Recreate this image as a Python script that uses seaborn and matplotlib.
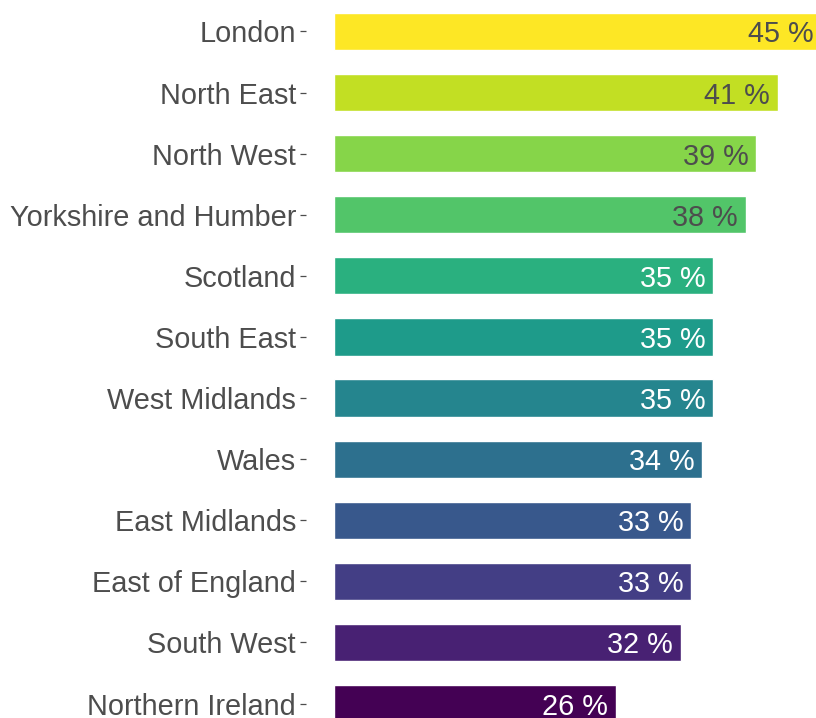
import matplotlib
matplotlib.use("Agg")
import matplotlib.pyplot as plt
import seaborn as sns
import numpy as np
import pandas as pd

regions = ["London", "North East", "North West", "Yorkshire and Humber", "Scotland",
           "South East", "West Midlands", "Wales", "East Midlands", "East of England",
           "South West", "Northern Ireland"]
values = [45, 41, 39, 38, 35, 35, 35, 34, 33, 33, 32, 26]
labels = [f"{v} %" for v in values]

df = pd.DataFrame({"region": regions, "value": values})

cmap = matplotlib.colormaps["viridis"]
n = len(regions)
colors = [cmap(x) for x in np.linspace(1, 0, n)]

sns.set_theme(style="white")
plt.rcParams["font.family"] = ["Liberation Sans", "DejaVu Sans"]

fig = plt.figure(figsize=(8.16, 7.18), dpi=100)
ax = fig.add_axes([306 / 816, 0, 1 - 306 / 816, 1])

sns.barplot(data=df, y="region", x="value", hue="region", palette=colors,
            order=regions, hue_order=regions, width=0.61, legend=False, ax=ax,
            saturation=1)

px_per_unit = 10.83
ax.set_xlim(-28 / px_per_unit, (816 - 306 - 28) / px_per_unit)
ax.set_ylim(11.237, -0.515)

dark = "#4D4D4D"
for i, (v, lab) in enumerate(zip(values, labels)):
    col = dark if v >= 38 else "white"
    ax.text(v - 0.72, i, lab, ha="right", va="center_baseline", fontsize=20.8, color=col)

for s in ax.spines.values():
    s.set_visible(False)
ax.set_xlabel("")
ax.set_ylabel("")
ax.set_xticks([])
ax.tick_params(axis="y", left=True, length=4.3, width=0.9, color="#4D4D4D",
               pad=2.9, labelsize=20.8, labelcolor=dark)

fig.savefig("out.png", dpi=100)
